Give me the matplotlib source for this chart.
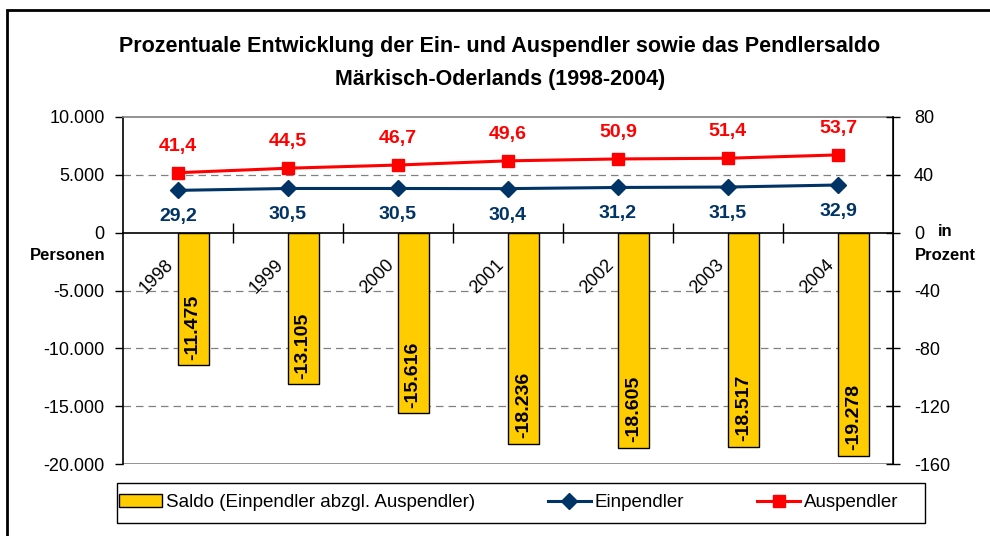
import numpy as np
import matplotlib.pyplot as plt
import matplotlib.patches as mpatches
from matplotlib.ticker import FuncFormatter, FixedLocator

### data
jahre = ['1998', '1999', '2000', '2001', '2002', '2003', '2004']
saldo = [-11475, -13105, -15616, -18236, -18605, -18517, -19278]
einpendler = [29.2, 30.5, 30.5, 30.4, 31.2, 31.5, 32.9]
auspendler = [41.4, 44.5, 46.7, 49.6, 50.9, 51.4, 53.7]

plt.rcParams['font.family'] = ['Liberation Sans', 'DejaVu Sans']
plt.rcParams['axes.unicode_minus'] = False

def de(v):
    # german number format, dot as thousand separator
    return '{:,.0f}'.format(v).replace(',', '.')

def de1(v):
    return '{:.1f}'.format(v).replace('.', ',')

fig = plt.figure(figsize=(9.9, 5.36), dpi=100)
ax = fig.add_axes([0.124, 0.134, 0.778, 0.648])
ax2 = ax.twinx()

x = np.arange(len(jahre))

### bars (shifted right of the category centre like in excel)
ax.bar(x, saldo, width=0.28, align='edge', color='#FFCC00', edgecolor='black',
       linewidth=1, label='Saldo (Einpendler abzgl. Auspendler)', zorder=3)
for i, v in enumerate(saldo):
    ax.annotate(de(v), (x[i] + 0.14, v), xytext=(0, 4), textcoords='offset points',
                rotation=90, ha='center', va='bottom', fontsize=14, fontweight='bold', zorder=4)

ax.set_xlim(-0.5, 6.5)
ax.set_ylim(-20000, 10000)
ax.yaxis.set_major_locator(FixedLocator(np.arange(-20000, 10001, 5000)))
ax.yaxis.set_major_formatter(FuncFormatter(lambda v, p: de(v)))
ax.tick_params(axis='y', direction='out', length=6, labelsize=13, width=1, pad=7)
for g in [5000, -5000, -10000, -15000]:
    ax.axhline(g, color='#808080', lw=0.9, ls=(0, (6, 4)), zorder=1)
ax.axhline(-20000, color='#808080', lw=1.2, zorder=2)

### category axis on the zero line
ax.spines['bottom'].set_position(('data', 0))
ax.spines['bottom'].set_linewidth(1.2)
ax.spines['top'].set_color('#808080')
ax.spines['top'].set_linewidth(1.2)
ax.spines['left'].set_linewidth(1.2)
ax.set_xticks([])
ax.set_xticks(np.arange(0.5, 6, 1), minor=True)
ax.tick_params(axis='x', which='minor', direction='inout', length=14, width=1)
for i, j in enumerate(jahre):
    ax.annotate(j, (x[i], 0), xytext=(-9, -17), textcoords='offset points',
                rotation=45, rotation_mode='anchor', ha='right', va='top', fontsize=13)

### lines on the percent axis
ax2.plot(x, einpendler, color='#003366', marker='D', markersize=8, lw=2.2,
         label='Einpendler', zorder=5)
ax2.plot(x, auspendler, color='#FF0000', marker='s', markersize=9, lw=2.2,
         label='Auspendler', zorder=5)
for i in range(len(jahre)):
    ax2.annotate(de1(auspendler[i]), (x[i], auspendler[i]), xytext=(0, 19),
                 textcoords='offset points', ha='center', va='center',
                 color='#FF0000', fontsize=14, fontweight='bold')
    ax2.annotate(de1(einpendler[i]), (x[i], einpendler[i]), xytext=(0, -19),
                 textcoords='offset points', ha='center', va='center',
                 color='#003366', fontsize=14, fontweight='bold')
ax2.set_ylim(-160, 80)
ax2.yaxis.set_major_locator(FixedLocator(np.arange(-160, 81, 40)))
ax2.tick_params(axis='y', direction='inout', length=10, labelsize=13, width=1, pad=10)
ax2.spines['right'].set_linewidth(1.2)
for s in ['top', 'bottom', 'left']:
    ax2.spines[s].set_visible(False)

### axis captions
fig.text(0.068, 0.523, 'Personen', ha='center', va='center', fontsize=12, fontweight='bold')
fig.text(0.955, 0.568, 'in', ha='center', va='center', fontsize=12, fontweight='bold')
fig.text(0.955, 0.524, 'Prozent', ha='center', va='center', fontsize=12, fontweight='bold')

### title
fig.text(0.505, 0.913, 'Prozentuale Entwicklung der Ein- und Auspendler sowie das Pendlersaldo',
         ha='center', va='center', fontsize=15.5, fontweight='bold')
fig.text(0.505, 0.852, 'Märkisch-Oderlands (1998-2004)',
         ha='center', va='center', fontsize=15.5, fontweight='bold')

### legend
h1, l1 = ax.get_legend_handles_labels()
h2, l2 = ax2.get_legend_handles_labels()
leg = fig.legend(h1 + h2, l1 + l2, ncol=3, loc='center left',
                 bbox_to_anchor=(0.118, 0.062), frameon=False,
                 fontsize=13.5, handlelength=2.3, handletextpad=0.2,
                 columnspacing=3.9, borderaxespad=0, borderpad=0.1)
fig.patches.append(mpatches.Rectangle((117 / 990, 13 / 536), 808 / 990, 40 / 536,
                                      transform=fig.transFigure, fill=False,
                                      edgecolor='black', lw=1))

### outer frame
fig.patches.append(mpatches.Rectangle((0.007, -0.1), 1.2, 1.081, transform=fig.transFigure,
                                      fill=False, edgecolor='black', lw=2))

plt.savefig('out.png', dpi=100)
